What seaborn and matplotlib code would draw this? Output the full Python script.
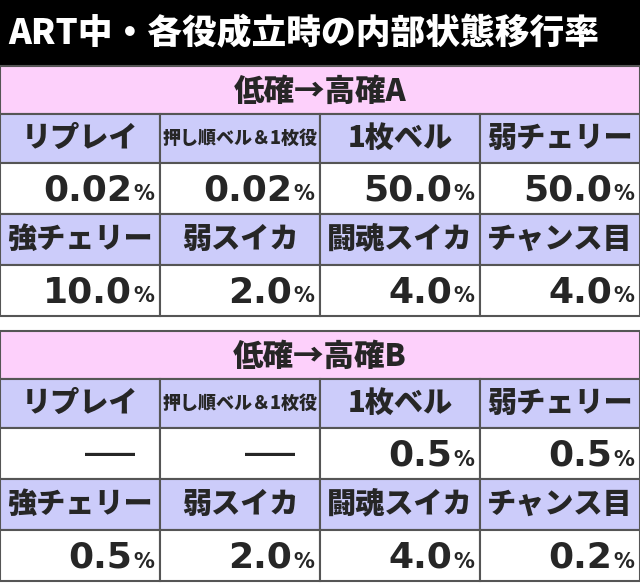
import matplotlib
matplotlib.use("Agg")
import matplotlib.pyplot as plt
import seaborn as sns
from matplotlib.patches import Rectangle

title = "ART中・各役成立時の内部状態移行率"
sections = ["低確→高確A", "低確→高確B"]
labels_row1 = ["リプレイ", "押し順ベル＆1枚役", "1枚ベル", "弱チェリー"]
labels_row2 = ["強チェリー", "弱スイカ", "闘魂スイカ", "チャンス目"]
values_a1 = ["0.02", "0.02", "50.0", "50.0"]
values_a2 = ["10.0", "2.0", "4.0", "4.0"]
values_b1 = [None, None, "0.5", "0.5"]
values_b2 = ["0.5", "2.0", "4.0", "0.2"]

sns.set_theme(style="white")
plt.rcParams['font.family'] = ['Noto Sans CJK JP', 'DejaVu Sans']

W, H = 640, 586
fig = plt.figure(figsize=(6.4, 5.86), dpi=100)
ax = fig.add_axes([0, 0, 1, 1])
ax.set_xlim(0, W)
ax.set_ylim(H, 0)
ax.axis("off")

PINK = "#fdd0fb"
LAV = "#ccccfa"
EDGE = "#555555"
cols = [0, 160, 320, 480, 640]

def cell(x0, y0, x1, y1, color):
    ax.add_patch(Rectangle((x0, y0), x1 - x0, y1 - y0, facecolor=color,
                           edgecolor=EDGE, linewidth=1.5))

ax.add_patch(Rectangle((0, 0), W, 66, facecolor="black", edgecolor="none"))
ax.text(8, 34, title, color="white", fontsize=25, fontweight="heavy", va="center", ha="left")

def label_row(y0, y1, labels):
    for i, lab in enumerate(labels):
        cell(cols[i], y0, cols[i + 1], y1, LAV)
        fs = 13 if len(lab) > 6 else 21
        ax.text((cols[i] + cols[i + 1]) / 2, (y0 + y1) / 2, lab, fontsize=fs,
                fontweight="heavy", ha="center", va="center")

def value_row(y0, y1, vals):
    for i, v in enumerate(vals):
        cell(cols[i], y0, cols[i + 1], y1, "white")
        ym = (y0 + y1) / 2 + 2
        if v is None:
            ax.text(cols[i + 1] - 25, ym - 2, "\u2015\u2015", fontsize=18, fontweight="bold",
                    ha="right", va="center", family=["DejaVu Sans"])
        else:
            ax.text(cols[i + 1] - 28, ym, v, fontsize=26, fontweight="bold",
                    ha="right", va="center", family=["DejaVu Sans"])
            ax.text(cols[i + 1] - 6, ym + 4, "%", fontsize=15, fontweight="bold",
                    ha="right", va="center", family=["DejaVu Sans"])

def section(y, name, r1, v1, r2, v2):
    cell(0, y, W, y + 48, PINK)
    ax.text(W / 2, y + 25, name, fontsize=22, fontweight="heavy", ha="center", va="center")
    label_row(y + 48, y + 97, r1)
    value_row(y + 97, y + 148, v1)
    label_row(y + 148, y + 199, r2)
    value_row(y + 199, y + 250, v2)

section(66, sections[0], labels_row1, values_a1, labels_row2, values_a2)
section(331, sections[1], labels_row1, values_b1, labels_row2, values_b2)

fig.savefig("out.png", dpi=100)
